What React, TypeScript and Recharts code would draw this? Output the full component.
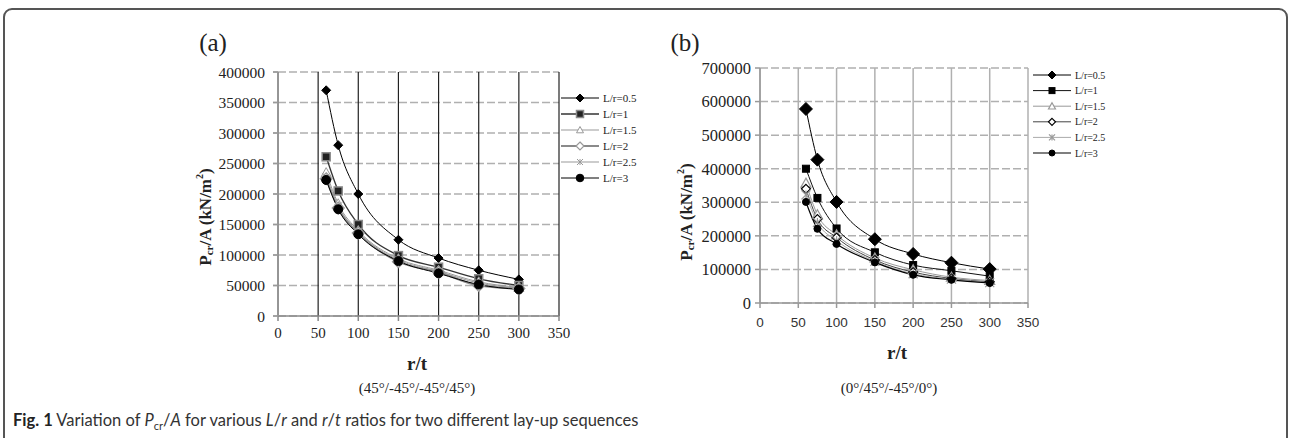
import React from 'react';
import { LineChart, Line, XAxis, YAxis, CartesianGrid } from 'recharts';

// r/t values shared by both panels
const rtValues = [60, 75, 100, 150, 200, 250, 300];
const xTicks = [0, 50, 100, 150, 200, 250, 300, 350];
const legendLabels = ['L/r=0.5', 'L/r=1', 'L/r=1.5', 'L/r=2', 'L/r=2.5', 'L/r=3'];

// (a) 45/-45/-45/45
const aL05 = [370000, 280000, 200000, 125000, 95000, 75000, 60000];
const aL1 = [261000, 205000, 150000, 99000, 80000, 61000, 50000];
const aL15 = [235000, 184000, 140000, 94000, 75000, 56000, 47000];
const aL2 = [225000, 177000, 136000, 89000, 72000, 50000, 45000];
const aL25 = [228000, 180000, 137000, 92000, 73000, 54000, 46000];
const aL3 = [223000, 175000, 134000, 90000, 70000, 51500, 43500];
const aYTicks = [0, 50000, 100000, 150000, 200000, 250000, 300000, 350000, 400000];

// (b) 0/45/-45/0
const bL05 = [578000, 427000, 301000, 190000, 146000, 120000, 101000];
const bL1 = [400000, 313000, 222000, 151000, 113000, 96000, 80000];
const bL15 = [357000, 263000, 203000, 134000, 99000, 77000, 67000];
const bL2 = [340000, 250000, 195000, 128000, 92000, 73000, 63000];
const bL25 = [322000, 240000, 186000, 124000, 87000, 71000, 60500];
const bL3 = [301000, 221000, 176000, 121000, 84000, 69000, 59500];
const bYTicks = [0, 100000, 200000, 300000, 400000, 500000, 600000, 700000];

const keys = ['s05', 's1', 's15', 's2', 's25', 's3'];

const buildRows = (series: number[][]) =>
  rtValues.map((rt, i) => {
    const row: Record<string, number> = { rt };
    keys.forEach((k, j) => (row[k] = series[j][i]));
    return row;
  });

const dataA = buildRows([aL05, aL1, aL15, aL2, aL25, aL3]);
const dataB = buildRows([bL05, bL1, bL15, bL2, bL25, bL3]);

type Style = { shape: string; size: number; leg: number; fill: string; stroke: string; sw: number; line: string; lw: number };

const stylesA: Style[] = [
  { shape: 'diamond', size: 4.5, leg: 4, fill: '#000', stroke: '#000', sw: 1, line: '#000', lw: 1 },
  { shape: 'square', size: 4, leg: 3.5, fill: '#222', stroke: '#8a8a8a', sw: 1.5, line: '#333', lw: 1.3 },
  { shape: 'triangle', size: 5, leg: 3.5, fill: '#fff', stroke: '#999', sw: 1, line: '#999', lw: 1 },
  { shape: 'diamond', size: 6, leg: 4, fill: '#fff', stroke: '#999', sw: 1.2, line: '#8a8a8a', lw: 2 },
  { shape: 'star', size: 4, leg: 3, fill: 'none', stroke: '#999', sw: 1, line: '#999', lw: 1 },
  { shape: 'circle', size: 4.5, leg: 3.8, fill: '#000', stroke: '#000', sw: 1, line: '#000', lw: 1 },
];

const stylesB: Style[] = [
  { shape: 'diamond', size: 6.5, leg: 4, fill: '#000', stroke: '#000', sw: 1, line: '#000', lw: 1 },
  { shape: 'square', size: 3.5, leg: 3, fill: '#000', stroke: '#000', sw: 1, line: '#111', lw: 1 },
  { shape: 'triangle', size: 5, leg: 3.5, fill: '#fff', stroke: '#999', sw: 1.2, line: '#999', lw: 1 },
  { shape: 'diamond', size: 4.5, leg: 3.5, fill: '#fff', stroke: '#000', sw: 1.2, line: '#444', lw: 1 },
  { shape: 'star', size: 4.5, leg: 3, fill: 'none', stroke: '#999', sw: 1.2, line: '#aaa', lw: 1 },
  { shape: 'circle', size: 3.5, leg: 3, fill: '#000', stroke: '#000', sw: 1, line: '#000', lw: 1.2 },
];

function Marker({ s, cx, cy, r }: { s: Style; cx: number; cy: number; r: number }) {
  if (s.shape === 'diamond')
    return <polygon points={`${cx},${cy - r} ${cx + r},${cy} ${cx},${cy + r} ${cx - r},${cy}`} fill={s.fill} stroke={s.stroke} strokeWidth={s.sw} />;
  if (s.shape === 'square')
    return <rect x={cx - r} y={cy - r} width={2 * r} height={2 * r} fill={s.fill} stroke={s.stroke} strokeWidth={s.sw} />;
  if (s.shape === 'triangle')
    return <polygon points={`${cx},${cy - r} ${cx + r},${cy + r * 0.8} ${cx - r},${cy + r * 0.8}`} fill={s.fill} stroke={s.stroke} strokeWidth={s.sw} />;
  if (s.shape === 'star')
    return (
      <g stroke={s.stroke} strokeWidth={s.sw}>
        <line x1={cx - r} y1={cy - r} x2={cx + r} y2={cy + r} />
        <line x1={cx - r} y1={cy + r} x2={cx + r} y2={cy - r} />
        <line x1={cx} y1={cy - r} x2={cx} y2={cy + r} />
      </g>
    );
  return <circle cx={cx} cy={cy} r={r} fill={s.fill} stroke={s.stroke} strokeWidth={s.sw} />;
}

const dotFor = (s: Style, k: string) => (p: any) =>
  <Marker key={`${k}-${p.index}`} s={s} cx={p.cx} cy={p.cy} r={s.size} />;

const serif = '"Liberation Serif", "Times New Roman", serif';
const sans = '"Liberation Sans", Arial, sans-serif';

function Legend({ styles, x, y, step, fontSize }: { styles: Style[]; x: number; y: number; step: number; fontSize: number }) {
  return (
    <g>
      {styles.map((s, i) => {
        const cy = y + i * step;
        return (
          <g key={i}>
            <line x1={x} x2={x + 38} y1={cy} y2={cy} stroke={s.line} strokeWidth={s.lw} />
            <Marker s={s} cx={x + 19} cy={cy} r={s.leg} />
            <text x={x + 42} y={cy} dominantBaseline="central" fontSize={fontSize} fontFamily={serif} fill="#222">
              {legendLabels[i]}
            </text>
          </g>
        );
      })}
    </g>
  );
}

function YTitle({ x, y }: { x: number; y: number }) {
  return (
    <text transform={`rotate(-90 ${x} ${y})`} x={x} y={y} textAnchor="middle" dominantBaseline="central"
      fontFamily={serif} fontWeight="bold" fontSize={17} fill="#222">
      P<tspan fontSize={11} dy={4}>cr</tspan><tspan dy={-4}>/A (kN/m</tspan><tspan fontSize={10} dy={-6}>2</tspan><tspan dy={6}>)</tspan>
    </text>
  );
}

export default function App() {
  return (
    <div style={{ position: 'absolute', left: 0, top: 0, width: 1292, height: 438, background: '#fff', overflow: 'hidden' }}>
      <div style={{ position: 'absolute', left: 3, top: 8, width: 1285, height: 460, boxSizing: 'border-box',
        border: '2px solid #555', borderRadius: 9 }} />

      <div style={{ position: 'absolute', left: 0, top: 0 }}>
        <LineChart width={620} height={438} data={dataA} margin={{ top: 72, right: 61, bottom: 92, left: 208 }}>
          <CartesianGrid vertical={false} stroke="#b0b0b0" strokeWidth={1.5} strokeDasharray="8 3" />
          <CartesianGrid horizontal={false} stroke="#222" strokeWidth={1.2} />
          <XAxis dataKey="rt" type="number" domain={[0, 350]} ticks={xTicks} interval={0} height={30}
            stroke="#888" strokeWidth={1.5} tickSize={5} tickMargin={6}
            tick={{ fill: '#222', fontSize: 15, fontFamily: serif }} />
          <YAxis type="number" domain={[0, 400000]} ticks={aYTicks} interval={0} width={70}
            stroke="#999" strokeWidth={1.8} tickSize={5} tickMargin={8}
            tick={{ fill: '#222', fontSize: 15.5, fontFamily: serif }} />
          {keys.map((k, i) => (
            <Line key={k} dataKey={k} type="monotone" stroke={stylesA[i].line} strokeWidth={stylesA[i].lw}
              dot={dotFor(stylesA[i], k)} isAnimationActive={false} />
          ))}
        </LineChart>
      </div>

      <div style={{ position: 'absolute', left: 640, top: 0 }}>
        <LineChart width={420} height={438} data={dataB} margin={{ top: 68, right: 32, bottom: 105, left: 50 }}>
          <CartesianGrid vertical={false} stroke="#b0b0b0" strokeWidth={1.5} strokeDasharray="8 3" />
          <CartesianGrid horizontal={false} stroke="#b0b0b0" strokeWidth={1.5} />
          <XAxis dataKey="rt" type="number" domain={[0, 350]} ticks={xTicks} interval={0} height={30}
            stroke="#999" strokeWidth={1.5} tickSize={5} tickMargin={9}
            tick={{ fill: '#333', fontSize: 13.5, fontFamily: sans }} />
          <YAxis type="number" domain={[0, 700000]} ticks={bYTicks} interval={0} width={70}
            stroke="#999" strokeWidth={1.5} tickSize={5} tickMargin={4}
            tick={{ fill: '#222', fontSize: 16.5, fontFamily: serif }} />
          {keys.map((k, i) => (
            <Line key={k} dataKey={k} type="monotone" stroke={stylesB[i].line} strokeWidth={stylesB[i].lw}
              dot={dotFor(stylesB[i], k)} isAnimationActive={false} />
          ))}
        </LineChart>
      </div>

      <svg width={1292} height={438} style={{ position: 'absolute', left: 0, top: 0, pointerEvents: 'none' }}>
        <text x={213} y={42} textAnchor="middle" dominantBaseline="central" fontFamily={serif} fontSize={25} fill="#222">(a)</text>
        <text x={685} y={42} textAnchor="middle" dominantBaseline="central" fontFamily={serif} fontSize={25} fill="#222">(b)</text>
        <YTitle x={205} y={217} />
        <YTitle x={686} y={212} />
        <text x={417} y={363} textAnchor="middle" dominantBaseline="central" fontFamily={serif} fontWeight="bold" fontSize={19} fill="#222">r/t</text>
        <text x={897} y={352} textAnchor="middle" dominantBaseline="central" fontFamily={serif} fontWeight="bold" fontSize={19} fill="#222">r/t</text>
        <text x={417} y={388} textAnchor="middle" dominantBaseline="central" fontFamily={serif} fontSize={15} fill="#222">(45°/-45°/-45°/45°)</text>
        <text x={889} y={388} textAnchor="middle" dominantBaseline="central" fontFamily={serif} fontSize={15} fill="#222">(0°/45°/-45°/0°)</text>
        <Legend styles={stylesA} x={561} y={98} step={16} fontSize={11} />
        <Legend styles={stylesB} x={1033} y={75} step={15.6} fontSize={10} />
      </svg>

      <div style={{ position: 'absolute', left: 13, top: 410, fontFamily: 'Lato, sans-serif', fontSize: 16.5, color: '#333', whiteSpace: 'nowrap' }}>
        <b style={{ color: '#222' }}>Fig. 1</b> Variation of <i>P</i><sub style={{ fontSize: 11 }}>cr</sub>/<i>A</i> for various <i>L</i>/<i>r</i> and <i>r</i>/<i>t</i> ratios for two different lay-up sequences
      </div>
    </div>
  );
}
